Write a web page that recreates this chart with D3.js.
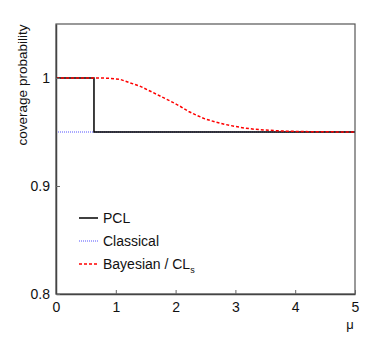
<!DOCTYPE html>
<html>
<head>
<meta charset="utf-8">
<script src="https://cdn.jsdelivr.net/npm/d3@7"></script>
<style>
  body { margin: 0; background: #fff; }
  text { font-family: "Liberation Sans", Arial, sans-serif; fill: #111; }
</style>
</head>
<body>
<div id="chart"></div>
<script>
const width = 374;
const height = 355;
const margin = { left: 56, right: 19, top: 24, bottom: 61 };
const inner_w = width - margin.left - margin.right;
const inner_h = height - margin.top - margin.bottom;

// values
const x_ticks = [0, 1, 2, 3, 4, 5];
const y_ticks = [0.8, 0.9, 1];
const pcl_mu = [0, 0.635, 0.635, 5];
const pcl_cov = [1, 1, 0.95, 0.95];
const classical_mu = [0, 5];
const classical_cov = [0.95, 0.95];
const bayes_mu = [0, 0.6, 0.75, 0.9, 1.07, 1.24, 1.4, 1.57, 1.74, 1.91, 2.07, 2.22, 2.35, 2.49, 2.66, 2.83, 2.99, 3.16, 3.33, 3.5, 3.66, 3.85, 4.1, 4.4, 4.7, 5];
const bayes_cov = [1, 1, 1, 0.9997, 0.9988, 0.9955, 0.9925, 0.988, 0.9833, 0.9787, 0.974, 0.969, 0.9655, 0.9622, 0.9594, 0.957, 0.9552, 0.9536, 0.9525, 0.9518, 0.9513, 0.9508, 0.9504, 0.9502, 0.9501, 0.95];
const legend_labels = ['PCL', 'Classical', 'Bayesian / CL'];

const x = d3.scaleLinear().domain([0, 5]).range([0, inner_w]);
const y = d3.scaleLinear().domain([0.8, 1.05]).range([inner_h, 0]);

const svg = d3.select('#chart')
  .append('svg')
    .attr('width', width)
    .attr('height', height)
  .append('g')
    .attr('transform', 'translate(' + margin.left + ',' + margin.top + ')');

const line = d3.line().x(d => x(d[0])).y(d => y(d[1]));
const zip = (a, b) => a.map((v, i) => [v, b[i]]);

const series = [
  { name: 'PCL', pts: zip(pcl_mu, pcl_cov), color: '#000', dash: null, w: 1.5 },
  { name: 'Classical', pts: zip(classical_mu, classical_cov), color: '#5555ff', dash: '1,1', w: 1.2 },
  { name: 'Bayesian', pts: zip(bayes_mu, bayes_cov), color: '#ff0000', dash: '3,2', w: 1.5 }
];

// classical under PCL, bayesian on top
const draw_order = [series[1], series[0], series[2]];
svg.selectAll('path.series')
    .data(draw_order)
  .join('path')
    .attr('class', 'series')
    .attr('d', d => line(d.pts))
    .attr('fill', 'none')
    .attr('stroke', d => d.color)
    .attr('stroke-width', d => d.w)
    .attr('stroke-dasharray', d => d.dash);

// frame
svg.append('rect')
  .attr('width', inner_w)
  .attr('height', inner_h)
  .attr('fill', 'none')
  .attr('stroke', '#555')
  .attr('stroke-width', 1.2);

// axes with inward ticks
const x_axis = svg.append('g')
  .attr('transform', 'translate(0,' + inner_h + ')')
  .call(d3.axisBottom(x).tickValues(x_ticks).tickSizeInner(-4).tickSizeOuter(0).tickPadding(8)
    .tickFormat(d3.format('d')));
const y_axis = svg.append('g')
  .call(d3.axisLeft(y).tickValues(y_ticks).tickSizeInner(-4).tickSizeOuter(0).tickPadding(6)
    .tickFormat(d => d === 1 ? '1' : d3.format('.1f')(d)));
[x_axis, y_axis].forEach(a => {
  a.select('.domain').attr('stroke', '#444').attr('stroke-width', 1.5);
  a.selectAll('.tick line').attr('stroke', '#666');
  a.selectAll('.tick text').attr('font-size', 14).attr('fill', '#111')
    .attr('font-family', '"Liberation Sans", Arial, sans-serif');
});

svg.append('text')
  .attr('x', x(5) - 5)
  .attr('y', inner_h + 35)
  .attr('font-size', 13)
  .attr('text-anchor', 'middle')
  .text('μ');

svg.append('text')
  .attr('transform', 'translate(' + (-29) + ',' + (y(1.0) + 7) + ') rotate(-90)')
  .attr('font-size', 13.5)
  .attr('text-anchor', 'middle')
  .text('coverage probability');

// legend
const legend = svg.append('g')
  .attr('transform', 'translate(' + 23 + ',' + 194 + ')');
const items = legend.selectAll('g')
    .data(series)
  .join('g')
    .attr('transform', (d, i) => 'translate(0,' + (i * 23) + ')');
items.append('line')
  .attr('x1', 0).attr('x2', 19)
  .attr('stroke', d => d.color)
  .attr('stroke-width', d => d.w)
  .attr('stroke-dasharray', d => d.dash);
const labels = items.append('text')
  .attr('x', 24)
  .attr('dy', '0.35em')
  .attr('font-size', 14)
  .text((d, i) => legend_labels[i]);
labels.filter((d, i) => i === 2)
  .append('tspan')
    .attr('dy', 4)
    .attr('font-size', 9)
    .text('s');
</script>
</body>
</html>
